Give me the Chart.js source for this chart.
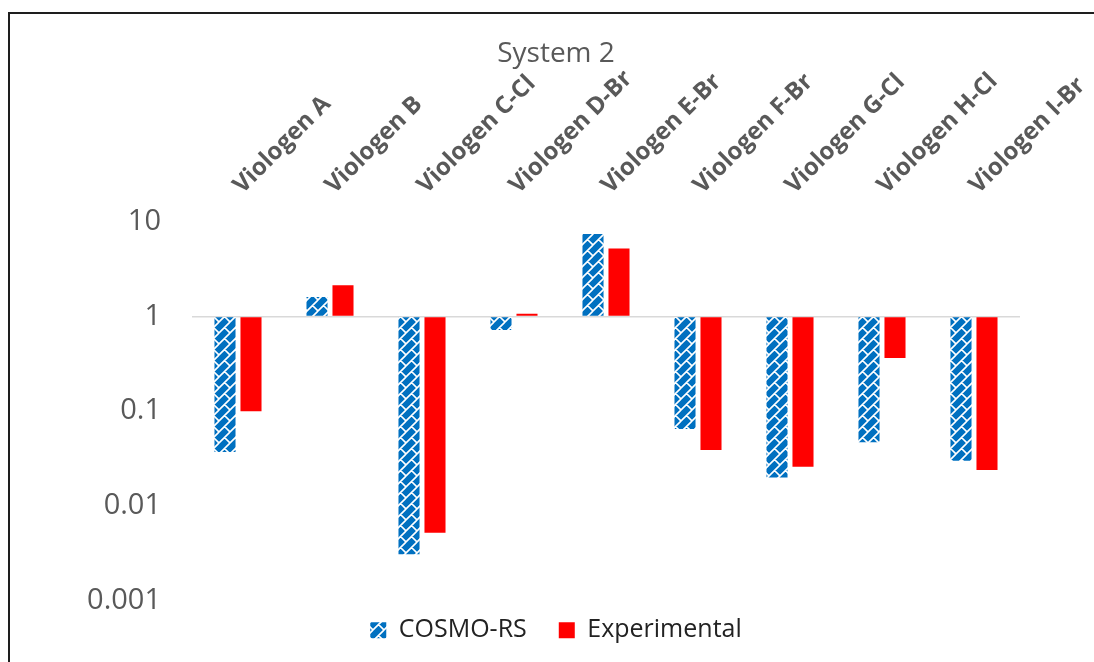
<!DOCTYPE html>
<html>
<head>
<meta charset="utf-8">
<script src="https://cdn.jsdelivr.net/npm/chart.js@4.4.1/dist/chart.umd.min.js"></script>
<style>
  html, body { margin: 0; padding: 0; background: #ffffff; overflow: hidden; width: 1094px; height: 662px; }
  #frame {
    position: absolute; left: 8px; top: 12px;
    border-left: 2px solid #1e1e1e; border-top: 2px solid #1e1e1e;
    width: 1092px; height: 660px;
  }
  canvas { display: block; }
</style>
</head>
<body>
<div id="frame"><canvas id="chart" width="1092" height="660"></canvas></div>
<script>
// Categories and the two series (ratios, plotted on a log axis around 1)
const categories = [
  'Viologen A', 'Viologen B', 'Viologen C-Cl', 'Viologen D-Br', 'Viologen E-Br',
  'Viologen F-Br', 'Viologen G-Cl', 'Viologen H-Cl', 'Viologen I-Br'
];
const cosmoRS      = [0.037, 1.60, 0.0031, 0.72, 7.4, 0.065, 0.020, 0.047, 0.030];
const experimental = [0.10,  2.13, 0.0052, 1.07, 5.2, 0.039, 0.026, 0.364, 0.024];

// Value-axis ticks (decades) and their labels
const yTickValues = [0.001, 0.01, 0.1, 1, 10];
const yTickLabels = ['0.001', '0.01', '0.1', '1', '10'];

const GREY = '#595959';
const BLUE = '#0070C0';
const RED = '#FF0000';

// Blue fill with a white diagonal-brick hatch
function brickPattern(bg, fg, t) {
  const c = document.createElement('canvas');
  c.width = t; c.height = t;
  const g = c.getContext('2d');
  g.fillStyle = bg;
  g.fillRect(0, 0, t, t);
  g.strokeStyle = fg;
  g.lineWidth = 1.6;
  g.beginPath();
  for (const dx of [-t, 0, t]) {
    for (const dy of [-t, 0, t]) {
      g.moveTo(dx, dy + t);
      g.lineTo(dx + t, dy);
      g.moveTo(dx + t / 2, dy + t / 2);
      g.lineTo(dx + t, dy + t);
    }
  }
  g.stroke();
  return g.createPattern(c, 'repeat');
}

const hatch = brickPattern(BLUE, '#ffffff', 11);

// Lift the legend row closer to the plot while keeping wide item spacing
const legendLift = {
  id: 'legendLift',
  afterLayout(chart) {
    const lg = chart.legend;
    if (lg) { lg.top -= 15; lg.bottom -= 15; }
  }
};

new Chart(document.getElementById('chart'), {
  type: 'bar',
  plugins: [legendLift],
  data: {
    labels: categories,
    datasets: [
      {
        label: 'COSMO-RS',
        data: cosmoRS,
        backgroundColor: hatch,
        borderWidth: 0,
        base: 1
      },
      {
        label: 'Experimental',
        data: experimental,
        backgroundColor: RED,
        borderWidth: 0,
        base: 1
      }
    ]
  },
  options: {
    responsive: false,
    animation: false,
    devicePixelRatio: 1,
    categoryPercentage: 0.565,
    barPercentage: 0.81,
    layout: { padding: { left: 0, right: 0, top: 0, bottom: 6.3 } },
    plugins: {
      tooltip: { enabled: false },
      title: {
        display: true,
        text: 'System 2',
        color: GREY,
        font: { family: 'Open Sans', size: 28, weight: 'normal' },
        padding: { top: 23.2, bottom: 0 }
      },
      legend: {
        display: true,
        position: 'bottom',
        labels: {
          color: '#222222',
          boxWidth: 16,
          boxHeight: 16,
          padding: 32,
          font: { family: 'Open Sans', size: 25 }
        }
      }
    },
    scales: {
      x: {
        type: 'category',
        position: 'top',
        grid: { display: false, drawTicks: false },
        border: { display: false },
        ticks: {
          autoSkip: false,
          minRotation: 45,
          maxRotation: 45,
          padding: 22,
          labelOffset: 20,
          color: GREY,
          font: { family: 'Open Sans', size: 24, weight: 'bold' }
        },
        afterFit: (s) => {
          s.height = 150.9;
          s.paddingLeft = 0;
          s.paddingRight = 0;
        }
      },
      y: {
        type: 'logarithmic',
        position: 'left',
        min: 0.001,
        max: 10,
        border: { display: false },
        grid: {
          drawTicks: false,
          lineWidth: 1.5,
          color: (ctx) => (ctx.tick && ctx.tick.value === 1) ? '#d9d9d9' : 'rgba(0,0,0,0)'
        },
        afterBuildTicks: (s) => { s.ticks = yTickValues.map(v => ({ value: v })); },
        afterFit: (s) => {
          s.width = 182;
          s.paddingTop = 0;
          s.paddingBottom = 0;
        },
        ticks: {
          padding: 31,
          color: GREY,
          font: { family: 'Open Sans', size: 29 },
          callback: (v) => yTickLabels[yTickValues.indexOf(v)]
        }
      },
      // empty right-hand margin of the plot
      yRight: {
        type: 'linear',
        position: 'right',
        display: true,
        grid: { display: false, drawTicks: false },
        border: { display: false },
        ticks: { display: false },
        afterFit: (s) => {
          s.width = 82;
          s.paddingTop = 0;
          s.paddingBottom = 0;
        }
      }
    }
  }
});
</script>
</body>
</html>
